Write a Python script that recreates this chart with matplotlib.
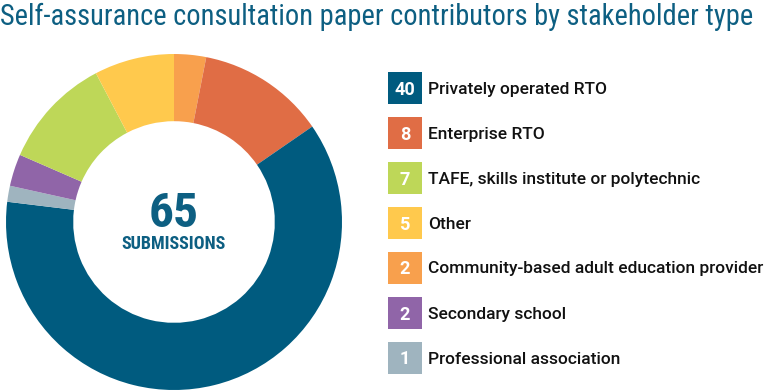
import matplotlib
matplotlib.use('Agg')
import matplotlib.pyplot as plt
from matplotlib.patches import Rectangle

# legend order (top to bottom)
categories = ['Privately operated RTO', 'Enterprise RTO',
              'TAFE, skills institute or polytechnic', 'Other',
              'Community-based adult education provider', 'Secondary school',
              'Professional association']
counts = [40, 8, 7, 5, 2, 2, 1]
colors = ['#005b7f', '#e06d45', '#bed758', '#ffc94d', '#f8a04d', '#9065a8', '#9fb4bf']
# order of slices clockwise from 12 o'clock
pie_order = [4, 1, 0, 6, 5, 2, 3]

title = 'Self-assurance consultation paper contributors by stakeholder type'
teal = '#0d5f82'
cond = ['Roboto Condensed', 'Roboto']

W, H = 768, 392
fig = plt.figure(figsize=(W / 100, H / 100), dpi=100)
ax = fig.add_axes([0, 0, 1, 1])

vals = [counts[i] for i in pie_order]
cols = [colors[i] for i in pie_order]
cx, cy, r = 174, H - 222, 168
ax.pie(vals, colors=cols, startangle=90, counterclock=False,
       center=(cx, cy), radius=r,
       wedgeprops=dict(width=r * 0.4, linewidth=0.5, edgecolor='none'))
ax.set_xlim(0, W)
ax.set_ylim(0, H)
ax.set_aspect('auto')
ax.axis('off')

renderer = fig.canvas.get_renderer()


def fit_width(t, target):
    w = t.get_window_extent(renderer).width
    t.set_fontsize(t.get_fontsize() * target / w)
    return t.get_fontsize()


t65 = ax.text(cx, H - 227, str(sum(counts)), ha='center', va='baseline',
              fontsize=32, fontweight='bold', color=teal, family=cond)
fit_width(t65, 50)
tsub = ax.text(cx, H - 249, 'SUBMISSIONS', ha='center', va='baseline',
               fontsize=11.5, fontweight='bold', color=teal, family=cond)
fit_width(tsub, 105)

t = fig.text(0.0, 1 - 25 / H, title, ha='left', va='baseline',
             fontsize=18, color=teal, family=cond)
fit_width(t, 755)

probe = fig.text(0, 0, categories[4], fontsize=13, fontweight='medium', family='Roboto')
lsize = fit_width(probe, 337)
probe.remove()

for i, (cat, n, c) in enumerate(zip(categories, counts, colors)):
    yc = H - (87.5 + 45 * i)
    ax.add_patch(Rectangle((388, yc - 16), 34, 32, facecolor=c, edgecolor='none'))
    ax.text(405, yc, str(n), ha='center', va='center_baseline',
            fontsize=lsize + 0.5, fontweight='bold', color='white', family='Roboto')
    ax.text(428, yc, cat, ha='left', va='center_baseline',
            fontsize=lsize, fontweight='medium', color='#111111', family='Roboto')

fig.savefig('out.png', dpi=100)
